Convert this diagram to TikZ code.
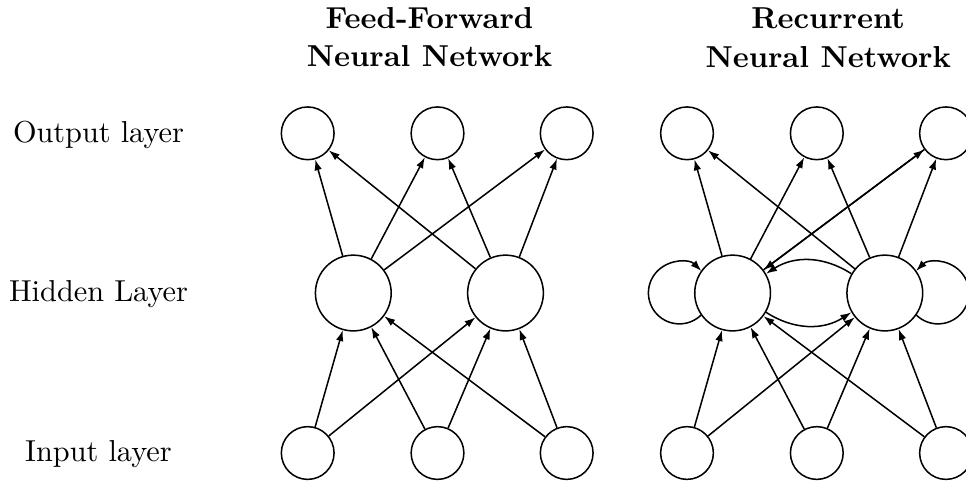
\documentclass[tikz,border=0pt]{standalone}
\usetikzlibrary{arrows.meta}
\tikzset{
  neuron/.style={circle,draw,line width=0.5pt,inner sep=0pt,minimum size=17.4pt},
  hid/.style={neuron,minimum size=25pt},
  arr/.style={line width=0.5pt,-{Latex[length=3.6pt,width=2.5pt]}},
  rowlabel/.style={anchor=base,inner sep=0pt},
  nettitle/.style={anchor=base,align=center,inner sep=0pt,
    font=\bfseries\fontsize{10}{12.7}\selectfont}
}
\begin{document}
\begin{tikzpicture}[x=0.33pt,y=-0.33pt]
\useasboundingbox (0,0) rectangle (966,483);
\clip (0,0) rectangle (966,483);

% row labels
\node[rowlabel] (lout) at (98.5,142.7) {Output layer};
\node[rowlabel] (lhid) at (98.5,301.7) {Hidden Layer};
\node[rowlabel] (lin)  at (98.5,461.7) {Input layer};

% titles (anchored at the baseline of the last line)
\node[nettitle] (tff)  at (429.5,66.7) {Feed-Forward\\Neural Network};
\node[nettitle] (trnn) at (828.2,67.0) {Recurrent\\Neural Network};

% feed-forward network
\node[neuron] (fo1) at (307.7,133.3) {};
\node[neuron] (fo2) at (437.5,133.3) {};
\node[neuron] (fo3) at (566.7,133.3) {};
\node[hid]    (fh1) at (353.3,293) {};
\node[hid]    (fh2) at (505.5,293) {};
\node[neuron] (fi1) at (307.7,453) {};
\node[neuron] (fi2) at (437.5,453) {};
\node[neuron] (fi3) at (566.7,453) {};

\foreach \h in {fh1,fh2}{
  \foreach \o in {fo1,fo2,fo3}{\draw[arr] (\h) -- (\o);}
  \foreach \i in {fi1,fi2,fi3}{\draw[arr] (\i) -- (\h);}
}

% recurrent network
\node[neuron] (ro1) at (687,133.3) {};
\node[neuron] (ro2) at (816.8,133.3) {};
\node[neuron] (ro3) at (946,133.3) {};
\node[hid]    (rh1) at (732.6,293) {};
\node[hid]    (rh2) at (884.8,293) {};
\node[neuron] (ri1) at (687,453) {};
\node[neuron] (ri2) at (816.8,453) {};
\node[neuron] (ri3) at (946,453) {};

\foreach \h in {rh1,rh2}{
  \foreach \o in {ro1,ro2,ro3}{\draw[arr] (\h) -- (\o);}
  \foreach \i in {ri1,ri2,ri3}{\draw[arr] (\i) -- (\h);}
}
\draw[arr] (ro3) -- (rh1);

% recurrent connections between the hidden units
\draw[arr] (rh2.150) .. controls +(-28,-18) and +(28,-18) .. (rh1.30);
\draw[arr] (rh1.-30) .. controls +(28,18) and +(-28,18) .. (rh2.210);

% self loops
\draw[arr] (rh1.215) arc[start angle=46, end angle=315, radius=31];
\draw[arr] (rh2.-35) arc[start angle=134, end angle=-135, radius=31];
\end{tikzpicture}
\end{document}
